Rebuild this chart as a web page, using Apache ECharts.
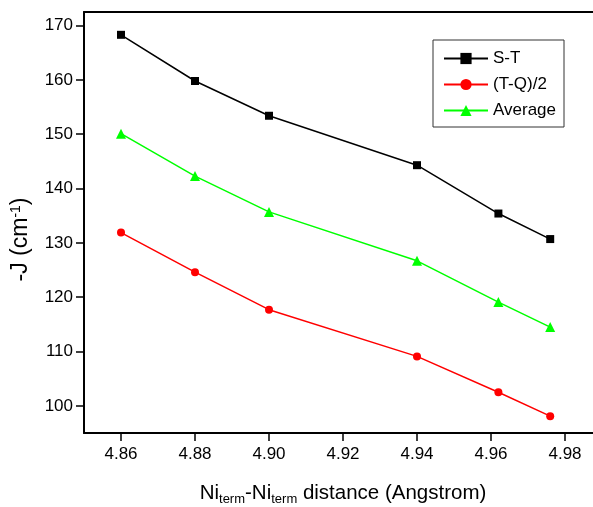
<!DOCTYPE html>
<html><head><meta charset="utf-8">
<script src="https://cdn.jsdelivr.net/npm/echarts@6/dist/echarts.min.js"></script>
<style>html,body{margin:0;padding:0;background:#fff}#c{width:593px;height:507px}</style>
</head><body><div id="c"></div>
<script>
const distances = [4.86, 4.88, 4.90, 4.94, 4.962, 4.976];
const stValues = [168.3, 159.8, 153.4, 144.3, 135.4, 130.7];
const tqValues = [131.9, 124.6, 117.7, 109.1, 102.5, 98.1];
const avgValues = [150.1, 142.3, 135.7, 126.7, 119.1, 114.5];
const xTicks = [4.86, 4.88, 4.90, 4.92, 4.94, 4.96, 4.98];
const yTicks = [100, 110, 120, 130, 140, 150, 160, 170];
const seriesNames = ['S-T', '(T-Q)/2', 'Average'];

const pair = v => distances.map((x, i) => [x, v[i]]);
const font = 'Liberation Sans, Arial, sans-serif';
const chart = echarts.init(document.getElementById('c'), null, {renderer: 'canvas'});
chart.setOption({
  animation: false,
  backgroundColor: '#fff',
  grid: {left: 84, top: 12, width: 518, height: 421, outerBoundsMode: 'none', containLabel: false},
  legend: {
    left: 433, top: 40, orient: 'vertical',
    padding: [10, 8, 8, 10], itemWidth: 44, itemHeight: 14, itemGap: 9,
    borderColor: '#333', borderWidth: 1,
    textStyle: {fontFamily: font, fontSize: 17, color: '#000'},
    data: seriesNames
  },
  xAxis: [{
    type: 'value', min: 4.85, max: 4.99,
    splitLine: {show: false},
    axisLine: {lineStyle: {color: '#000', width: 2}},
    axisTick: {customValues: xTicks, length: 8, lineStyle: {color: '#000', width: 1.5}},
    axisLabel: {customValues: xTicks, formatter: v => v.toFixed(2), fontFamily: font, fontSize: 17, color: '#000', margin: 13},
    name: '{a|Ni}{s|term}{a|-Ni}{s|term}{a| distance (Angstrom)}',
    nameLocation: 'middle', nameGap: 48,
    nameTextStyle: {rich: {
      a: {fontFamily: font, fontSize: 20.5, color: '#000'},
      s: {fontFamily: font, fontSize: 13, color: '#000', verticalAlign: 'bottom', padding: [12, 0, 0, 0]}
    }}
  }, {
    type: 'value', position: 'top', min: 4.85, max: 4.99,
    splitLine: {show: false}, axisTick: {show: false}, axisLabel: {show: false},
    axisLine: {lineStyle: {color: '#000', width: 2}}
  }],
  yAxis: {
    type: 'value', min: 95, max: 172.5,
    splitLine: {show: false},
    axisLine: {lineStyle: {color: '#000', width: 2}},
    axisTick: {customValues: yTicks, length: 8, lineStyle: {color: '#000', width: 1.5}},
    axisLabel: {customValues: yTicks, fontFamily: font, fontSize: 17, color: '#000', margin: 11},
    name: '{a|-J (cm}{p|-1}{a|)}',
    nameLocation: 'middle', nameGap: 51, nameRotate: 90,
    nameTextStyle: {padding: [0, 34, 0, 0], rich: {
      a: {fontFamily: font, fontSize: 23, color: '#000'},
      p: {fontFamily: font, fontSize: 14, color: '#000', verticalAlign: 'top', padding: [0, 0, 10, 0]}
    }}
  },
  series: [
    {name: seriesNames[0], type: 'line', data: pair(stValues), symbol: 'rect', symbolSize: 8,
     lineStyle: {color: '#000', width: 1.5}, itemStyle: {color: '#000'}},
    {name: seriesNames[1], type: 'line', data: pair(tqValues), symbol: 'circle', symbolSize: 8,
     lineStyle: {color: '#ff0000', width: 1.5}, itemStyle: {color: '#ff0000'}},
    {name: seriesNames[2], type: 'line', data: pair(avgValues), symbol: 'triangle', symbolSize: 10,
     lineStyle: {color: '#00ff00', width: 1.5}, itemStyle: {color: '#00ff00'}}
  ]
});
</script></body></html>
